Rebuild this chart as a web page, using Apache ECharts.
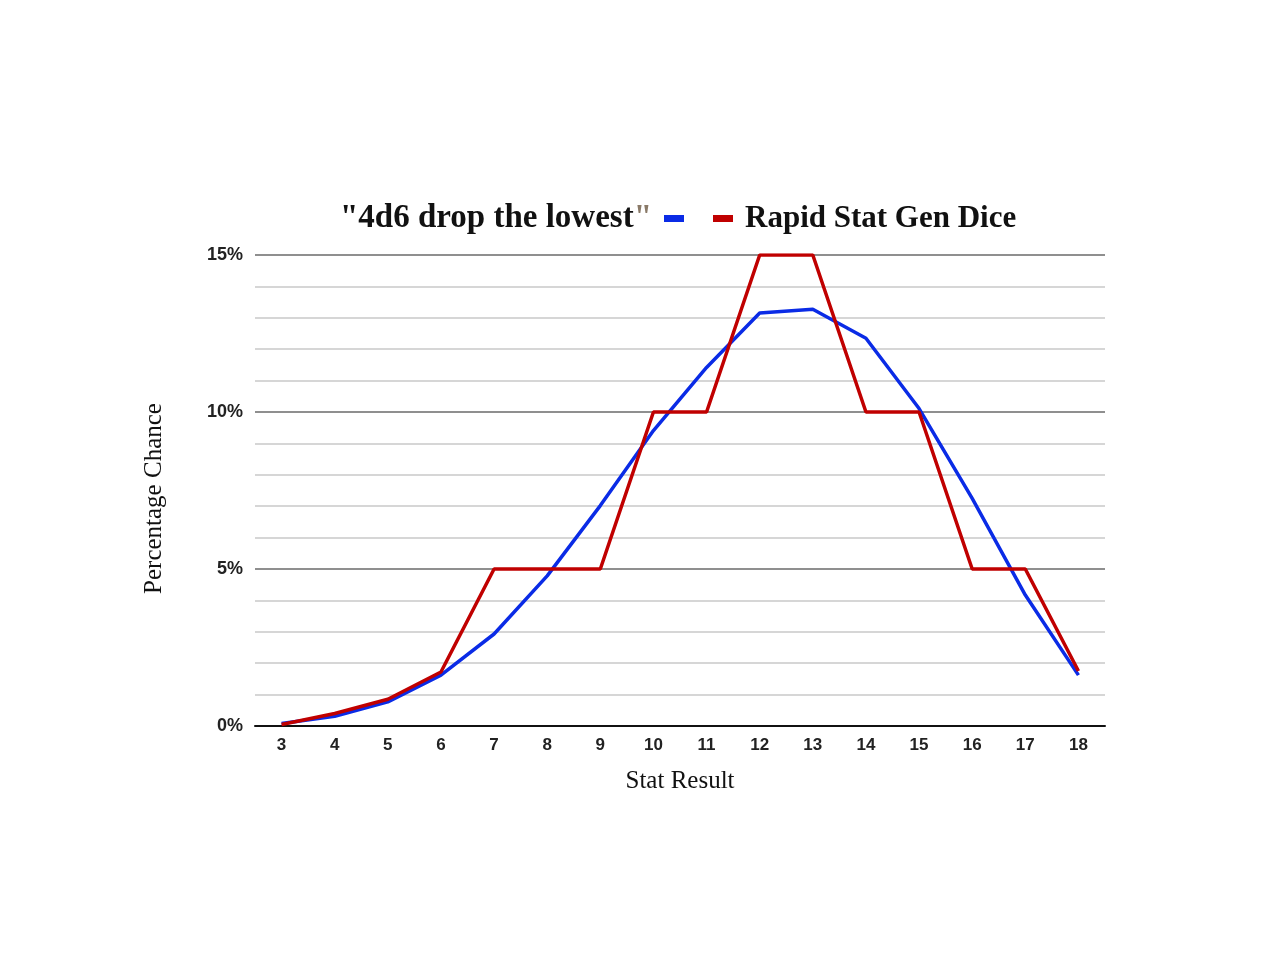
<!DOCTYPE html>
<html>
<head>
<meta charset="utf-8">
<script src="https://cdn.jsdelivr.net/npm/echarts@6/dist/echarts.min.js"></script>
<style>html,body{margin:0;padding:0;background:#fff;}#c{width:1280px;height:960px;}</style>
</head>
<body>
<div id="c"></div>
<script>
var categories = ['3','4','5','6','7','8','9','10','11','12','13','14','15','16','17','18'];
var dropLowest = [0.08, 0.31, 0.77, 1.62, 2.93, 4.78, 7.02, 9.41, 11.42, 13.15, 13.27, 12.35, 10.11, 7.25, 4.17, 1.62];
var rapidStat = [0.05, 0.40, 0.85, 1.72, 5, 5, 5, 10, 10, 15, 15, 10, 10, 5, 5, 1.75];
var yTicks = [0, 5, 10, 15];

var chart = echarts.init(document.getElementById('c'));
var serif = '"Liberation Serif", "DejaVu Serif", serif';
var sans = '"Liberation Sans", Arial, sans-serif';
chart.setOption({
  backgroundColor: '#fff',
  animation: false,
  grid: { left: 255, right: 175, top: 255, bottom: 234, containLabel: false },
  legend: [
    {
      data: ['"4d6 drop the lowest"'],
      right: 591, top: 197,
      align: 'right',
      icon: 'rect', itemWidth: 20, itemHeight: 7,
      formatter: function (n) { return '{a|"4d6 drop the lowest}{b|"}'; },
      textStyle: {
        fontFamily: serif, fontSize: 33, fontWeight: 'bold', color: '#111',
        rich: {
          a: { fontFamily: serif, fontSize: 33, fontWeight: 'bold', color: '#111' },
          b: { fontFamily: serif, fontSize: 33, fontWeight: 'bold', color: '#8a7a68', padding: [0, 7, 0, 0] }
        }
      }
    },
    {
      data: ['Rapid Stat Gen Dice'],
      left: 708, top: 198,
      align: 'left',
      icon: 'rect', itemWidth: 20, itemHeight: 7,
      formatter: function (n) { return '{a|' + n + '}'; },
      textStyle: {
        fontFamily: serif, fontSize: 31, fontWeight: 'bold', color: '#111',
        rich: {
          a: { fontFamily: serif, fontSize: 31, fontWeight: 'bold', color: '#111', padding: [0, 0, 0, 7] }
        }
      }
    }
  ],
  xAxis: {
    type: 'category',
    data: categories,
    boundaryGap: true,
    name: 'Stat Result',
    nameLocation: 'middle',
    nameGap: 43,
    nameTextStyle: { fontFamily: serif, fontSize: 25, color: '#111' },
    axisLine: { show: true, lineStyle: { color: '#111', width: 2 } },
    axisTick: { show: false },
    axisLabel: { fontFamily: sans, fontSize: 17, fontWeight: 'bold', color: '#222', margin: 11 }
  },
  yAxis: {
    type: 'value',
    min: 0, max: 15, interval: 5,
    name: 'Percentage Chance',
    nameLocation: 'middle',
    nameGap: 88,
    nameTextStyle: { fontFamily: serif, fontSize: 25, color: '#111', padding: [0, 16, 0, 0] },
    axisLine: { show: false },
    axisTick: { show: false },
    axisLabel: {
      fontFamily: sans, fontSize: 18, fontWeight: 'bold', color: '#222', margin: 12,
      formatter: function (v) { return yTicks.indexOf(v) >= 0 ? v + '%' : ''; }
    },
    splitLine: { show: true, lineStyle: { color: '#8f8f8f', width: 2 } },
    minorTick: { show: false, splitNumber: 5 },
    minorSplitLine: { show: true, lineStyle: { color: '#d6d6d6', width: 2 } }
  },
  series: [
    {
      name: '"4d6 drop the lowest"',
      type: 'line',
      data: dropLowest,
      symbol: 'none',
      lineStyle: { color: '#0a2be6', width: 3.5 },
      itemStyle: { color: '#0a2be6' },
      z: 2
    },
    {
      name: 'Rapid Stat Gen Dice',
      type: 'line',
      data: rapidStat,
      symbol: 'none',
      lineStyle: { color: '#c00000', width: 3.5 },
      itemStyle: { color: '#c00000' },
      z: 3
    }
  ]
});
</script>
</body>
</html>
